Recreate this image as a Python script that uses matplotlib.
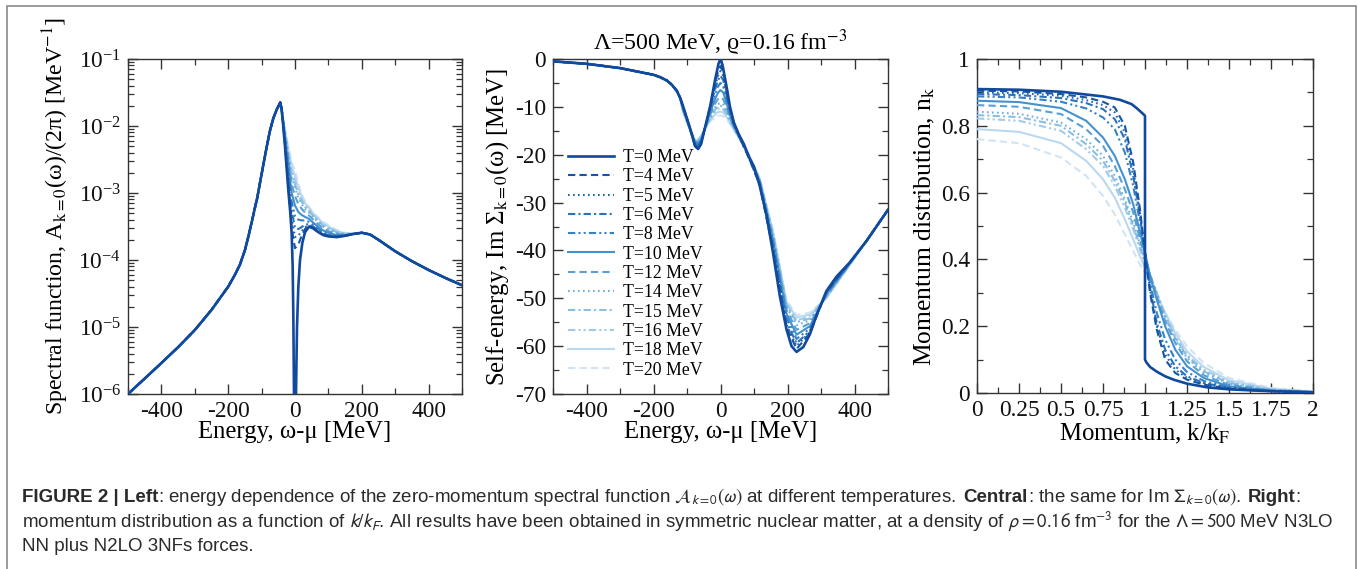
import numpy as np
import matplotlib
matplotlib.use("Agg")
import matplotlib.pyplot as plt
from matplotlib.ticker import MultipleLocator, LogLocator, FuncFormatter, NullFormatter
from matplotlib.lines import Line2D
from matplotlib.patches import Rectangle

# ---------------- data ----------------
temps = [0, 4, 5, 6, 8, 10, 12, 14, 15, 16, 18, 20]
legend_labels = ["T=%d MeV" % t for t in temps]

# Left panel: spectral function A_k=0(w)/(2pi) [MeV^-1]
spec_tailL_E = [-500, -450, -400, -350, -300, -250, -200, -180, -165, -150, -140, -130, -120, -113, -105, -95, -85,
                -75, -65, -55, -48]
spec_tailL_A = [1.0e-6, 1.7e-6, 2.9e-6, 5.0e-6, 9.0e-6, 1.8e-5, 4.0e-5, 6.0e-5, 8.5e-5, 1.4e-4, 2.2e-4, 3.6e-4,
                6.0e-4, 8.5e-4, 1.4e-3, 2.6e-3, 4.8e-3, 8.5e-3, 1.3e-2, 1.75e-2, 2.05e-2]
spec_tailR_E = [175, 200, 225, 250, 300, 350, 400, 450, 500]
spec_tailR_A = [2.45e-4, 2.55e-4, 2.4e-4, 2.0e-4, 1.35e-4, 9.6e-5, 7.1e-5, 5.4e-5, 4.2e-5]
spec_core0_E = [-44, -40, -36, -30, -20, -14, -10, -7, -5, -3, 0, 3, 6, 10, 15, 22, 30, 42, 55, 70, 85, 100, 125, 150]
spec_core0_A = [2.25e-2, 1.75e-2, 1.1e-2, 5.0e-3, 1.1e-3, 5.0e-4, 2.5e-4, 8.0e-5, 1.5e-5, 1.0e-6, 1.0e-9, 1.0e-6,
                1.0e-5, 4.0e-5, 1.0e-4, 1.8e-4, 2.6e-4, 3.15e-4, 2.95e-4, 2.6e-4, 2.35e-4, 2.25e-4, 2.2e-4, 2.3e-4]
spec_E_T = [-44, -40, -36, -30, -20, -10, 0, 10, 20, 30, 42, 55, 70, 85, 100, 125, 150]
spec_A_T = [
    [2.25e-2, 1.77e-2, 1.12e-2, 5.3e-3, 1.3e-3, 3.0e-4, 1.5e-4, 1.7e-4, 2.3e-4, 2.9e-4, 3.2e-4, 3.0e-4, 2.6e-4, 2.4e-4, 2.3e-4, 2.2e-4, 2.3e-4],
    [2.25e-2, 1.78e-2, 1.14e-2, 5.6e-3, 1.6e-3, 4.2e-4, 2.2e-4, 2.3e-4, 2.7e-4, 3.1e-4, 3.3e-4, 3.05e-4, 2.65e-4, 2.4e-4, 2.3e-4, 2.2e-4, 2.3e-4],
    [2.25e-2, 1.79e-2, 1.16e-2, 5.9e-3, 1.9e-3, 5.5e-4, 3.0e-4, 2.9e-4, 3.1e-4, 3.4e-4, 3.4e-4, 3.15e-4, 2.75e-4, 2.45e-4, 2.35e-4, 2.25e-4, 2.3e-4],
    [2.25e-2, 1.8e-2, 1.18e-2, 6.3e-3, 2.3e-3, 7.5e-4, 4.5e-4, 4.0e-4, 3.9e-4, 3.9e-4, 3.7e-4, 3.35e-4, 2.9e-4, 2.6e-4, 2.45e-4, 2.3e-4, 2.35e-4],
    [2.25e-2, 1.81e-2, 1.2e-2, 6.8e-3, 2.7e-3, 1.0e-3, 6.5e-4, 5.2e-4, 4.7e-4, 4.4e-4, 4.1e-4, 3.6e-4, 3.1e-4, 2.75e-4, 2.55e-4, 2.35e-4, 2.35e-4],
    [2.25e-2, 1.82e-2, 1.22e-2, 7.2e-3, 3.1e-3, 1.35e-3, 9.0e-4, 6.8e-4, 5.8e-4, 5.1e-4, 4.6e-4, 4.0e-4, 3.4e-4, 2.95e-4, 2.7e-4, 2.45e-4, 2.4e-4],
    [2.25e-2, 1.83e-2, 1.24e-2, 7.7e-3, 3.6e-3, 1.7e-3, 1.2e-3, 8.5e-4, 6.8e-4, 5.8e-4, 5.1e-4, 4.3e-4, 3.65e-4, 3.15e-4, 2.85e-4, 2.55e-4, 2.45e-4],
    [2.25e-2, 1.83e-2, 1.25e-2, 8.0e-3, 3.9e-3, 1.9e-3, 1.35e-3, 9.5e-4, 7.4e-4, 6.2e-4, 5.4e-4, 4.5e-4, 3.8e-4, 3.25e-4, 2.95e-4, 2.6e-4, 2.45e-4],
    [2.25e-2, 1.84e-2, 1.26e-2, 8.3e-3, 4.1e-3, 2.1e-3, 1.5e-3, 1.05e-3, 8.0e-4, 6.6e-4, 5.7e-4, 4.7e-4, 3.95e-4, 3.4e-4, 3.05e-4, 2.65e-4, 2.5e-4],
    [2.25e-2, 1.85e-2, 1.28e-2, 8.7e-3, 4.5e-3, 2.5e-3, 1.8e-3, 1.2e-3, 8.8e-4, 7.1e-4, 6.0e-4, 4.9e-4, 4.15e-4, 3.5e-4, 3.15e-4, 2.7e-4, 2.5e-4],
    [2.25e-2, 1.85e-2, 1.3e-2, 9.0e-3, 4.9e-3, 2.8e-3, 2.2e-3, 1.4e-3, 9.5e-4, 7.5e-4, 6.2e-4, 5.0e-4, 4.3e-4, 3.7e-4, 3.3e-4, 2.8e-4, 2.55e-4],
]

# Central panel: Im Sigma_k=0(w) [MeV]
self_tailL_E = [-500, -400, -300, -200, -180, -160, -145, -130, -120]
self_tailL_S = [-0.5, -1.0, -1.9, -3.3, -3.8, -4.5, -5.4, -6.7, -8.2]
self_tailR_E = [436, 500]
self_tailR_S = [-38.0, -31.5]
self_core0_E = [-112, -92, -76, -67, -58, -45, -31, -16, -6, 0, 6, 12, 20, 28, 40, 55, 70, 85, 100, 117, 137, 157,
                177, 197, 212, 227, 247, 267, 287, 316, 346, 386]
self_core0_S = [-9.8, -14.2, -18.2, -18.8, -17.8, -14.0, -9.9, -4.3, -1.0, 0.0, -1.2, -3.5, -6.5, -9.9, -13.3, -15.8,
                -17.8, -20.5, -22.5, -26.5, -32.5, -40.6, -49.5, -56.5, -60.0, -61.2, -60.2, -57.5, -53.5, -48.5, -45.5, -42.5]
self_E_T = [-112, -92, -76, -67, -58, -45, -31, -16, -8, 0, 8, 16, 28, 40, 55, 85, 117, 157, 197, 227, 267, 316, 386]
self_S_T = [
    [-9.9, -14.3, -18.1, -18.6, -17.6, -14.0, -10.0, -5.0, -2.8, -1.5, -2.6, -5.6, -10.2, -13.4, -16.0, -20.7, -26.3, -40.0, -56.0, -60.6, -57.3, -48.6, -42.5],
    [-10.0, -14.3, -18.0, -18.4, -17.5, -14.0, -10.2, -5.6, -3.6, -2.5, -3.5, -6.2, -10.5, -13.5, -16.0, -20.7, -26.2, -39.5, -55.5, -60.0, -57.0, -48.7, -42.5],
    [-10.1, -14.3, -17.9, -18.2, -17.3, -14.0, -10.4, -6.3, -4.5, -3.5, -4.4, -6.9, -10.8, -13.6, -16.0, -20.6, -26.0, -39.0, -55.0, -59.4, -56.8, -48.8, -42.6],
    [-10.2, -14.4, -17.7, -17.9, -17.1, -14.1, -10.8, -7.3, -5.8, -5.0, -5.7, -7.8, -11.2, -13.8, -16.0, -20.5, -25.8, -38.5, -54.0, -58.5, -56.3, -49.0, -42.6],
    [-10.4, -14.4, -17.5, -17.6, -16.9, -14.1, -11.2, -8.3, -7.1, -6.5, -7.0, -8.7, -11.7, -14.0, -16.1, -20.4, -25.6, -38.0, -53.2, -57.6, -55.8, -49.2, -42.7],
    [-10.5, -14.5, -17.3, -17.4, -16.7, -14.2, -11.7, -9.3, -8.4, -8.0, -8.4, -9.7, -12.2, -14.2, -16.2, -20.3, -25.4, -37.4, -52.4, -56.6, -55.2, -49.4, -42.8],
    [-10.7, -14.5, -17.2, -17.2, -16.5, -14.3, -12.1, -10.1, -9.4, -9.2, -9.5, -10.5, -12.6, -14.4, -16.3, -20.2, -25.3, -37.0, -51.8, -55.6, -54.6, -49.6, -42.8],
    [-10.8, -14.5, -17.1, -17.1, -16.4, -14.3, -12.3, -10.6, -9.9, -9.8, -10.0, -11.0, -12.8, -14.5, -16.3, -20.2, -25.2, -36.8, -51.4, -55.0, -54.2, -49.7, -42.9],
    [-10.8, -14.5, -17.1, -17.0, -16.3, -14.4, -12.5, -11.0, -10.4, -10.3, -10.5, -11.4, -13.0, -14.6, -16.4, -20.1, -25.1, -36.5, -51.1, -54.6, -53.8, -49.8, -42.9],
    [-10.9, -14.6, -17.0, -16.9, -16.1, -14.4, -12.8, -11.6, -11.1, -11.0, -11.2, -11.9, -13.2, -14.7, -16.4, -20.1, -25.0, -36.2, -50.8, -54.0, -53.4, -49.9, -43.0],
    [-11.0, -14.6, -17.0, -16.8, -16.0, -14.5, -13.0, -12.2, -11.9, -11.8, -12.0, -12.5, -13.5, -14.8, -16.5, -20.0, -25.0, -36.0, -50.5, -53.5, -53.0, -50.0, -43.0],
]

# Right panel: momentum distribution n_k vs k/kF
mom0_k = [0.0, 0.25, 0.5, 0.75, 0.85, 0.92, 0.95, 0.99, 1.0, 1.0, 1.008, 1.03, 1.07, 1.12, 1.17, 1.25, 1.37, 1.5, 1.67, 1.85, 2.0]
mom0_n = [0.91, 0.908, 0.902, 0.888, 0.878, 0.865, 0.853, 0.835, 0.83, 0.10, 0.092, 0.078, 0.064, 0.05, 0.04, 0.028,
          0.017, 0.011, 0.007, 0.004, 0.002]
mom_k_T = [0.0, 0.25, 0.5, 0.65, 0.75, 0.82, 0.88, 0.93, 0.97, 1.0, 1.03, 1.07, 1.12, 1.18, 1.25, 1.35, 1.5, 1.75, 2.0]
mom_n_T = [
    [0.905, 0.903, 0.895, 0.885, 0.872, 0.855, 0.80, 0.69, 0.55, 0.42, 0.30, 0.19, 0.10, 0.06, 0.04, 0.025, 0.013, 0.005, 0.002],
    [0.900, 0.898, 0.89, 0.877, 0.862, 0.84, 0.78, 0.67, 0.54, 0.42, 0.31, 0.20, 0.115, 0.07, 0.045, 0.028, 0.014, 0.005, 0.002],
    [0.895, 0.892, 0.883, 0.868, 0.85, 0.82, 0.76, 0.65, 0.53, 0.42, 0.315, 0.21, 0.13, 0.08, 0.05, 0.03, 0.015, 0.006, 0.002],
    [0.888, 0.885, 0.872, 0.852, 0.825, 0.79, 0.72, 0.62, 0.51, 0.42, 0.33, 0.24, 0.16, 0.10, 0.063, 0.036, 0.017, 0.006, 0.002],
    [0.875, 0.871, 0.853, 0.815, 0.765, 0.71, 0.64, 0.565, 0.48, 0.42, 0.35, 0.28, 0.20, 0.13, 0.08, 0.045, 0.02, 0.007, 0.003],
    [0.862, 0.857, 0.835, 0.79, 0.74, 0.68, 0.61, 0.54, 0.46, 0.41, 0.355, 0.29, 0.215, 0.15, 0.095, 0.053, 0.024, 0.008, 0.003],
    [0.842, 0.836, 0.81, 0.76, 0.71, 0.65, 0.58, 0.51, 0.445, 0.40, 0.355, 0.295, 0.225, 0.16, 0.105, 0.06, 0.028, 0.009, 0.003],
    [0.832, 0.826, 0.80, 0.745, 0.695, 0.635, 0.57, 0.50, 0.44, 0.395, 0.355, 0.30, 0.23, 0.165, 0.11, 0.065, 0.03, 0.01, 0.003],
    [0.822, 0.815, 0.785, 0.73, 0.68, 0.62, 0.555, 0.49, 0.43, 0.39, 0.35, 0.30, 0.235, 0.17, 0.115, 0.07, 0.033, 0.011, 0.004],
    [0.79, 0.782, 0.748, 0.695, 0.64, 0.585, 0.52, 0.46, 0.41, 0.375, 0.34, 0.295, 0.24, 0.18, 0.125, 0.078, 0.038, 0.013, 0.004],
    [0.76, 0.748, 0.705, 0.65, 0.59, 0.535, 0.475, 0.425, 0.385, 0.36, 0.33, 0.29, 0.24, 0.19, 0.14, 0.09, 0.045, 0.015, 0.005],
]

# ---------------- styles ----------------
colors = ['#11499c', '#1656a6', '#2064b2', '#2a72bb', '#3581c5', '#4591cd', '#5aa0d5', '#72afdc',
          '#8bbee3', '#a2cbe8', '#bad8ef', '#d0e4f4']
dash = (0, (3.5, 2.0))
dot = (0, (0.8, 1.6))
dashdot = (0, (3.5, 1.5, 1.0, 1.5))
dashdotdot = (0, (3.5, 1.5, 1.0, 1.5, 1.0, 1.5))
lstyles = ['-', dash, dot, dashdot, dashdotdot, '-', dash, dot, dashdot, dashdotdot, '-', dash]
lwidths = [1.9] + [1.5] * 11

plt.rcParams['font.family'] = ['Liberation Serif', 'DejaVu Serif']
plt.rcParams['mathtext.fontset'] = 'stix'
plt.rcParams['axes.unicode_minus'] = False

W, H = 1358, 569
fig = plt.figure(figsize=(W / 100, H / 100), dpi=100)

def px_axes(x0, x1, y0, y1):
    return fig.add_axes([x0 / W, 1 - y1 / H, (x1 - x0) / W, (y1 - y0) / H])

axL = px_axes(128, 462, 59, 394)
axC = px_axes(553, 888, 59, 394)
axR = px_axes(977, 1313, 59, 393)

TFS = 16.8
LFS = 17.8
spine_col = '#333333'
for ax in (axL, axC, axR):
    for s in ax.spines.values():
        s.set_linewidth(1.0)
        s.set_color(spine_col)
    ax.tick_params(which='both', direction='in', top=True, right=True, colors=spine_col,
                   labelcolor='#111111', labelsize=TFS)
    ax.tick_params(which='major', length=7, width=1.0, pad=5)
    ax.tick_params(which='minor', length=4, width=0.9)

# ---- left ----
n = len(temps)
for i in reversed(range(n)):
    if i == 0:
        x = spec_tailL_E + spec_core0_E + spec_tailR_E
        y = spec_tailL_A + spec_core0_A + spec_tailR_A
    else:
        x = spec_tailL_E + spec_E_T + spec_tailR_E
        y = spec_tailL_A + spec_A_T[i - 1] + spec_tailR_A
    axL.plot(x, y, color=colors[i], ls=lstyles[i], lw=lwidths[i], zorder=2 + n - i)
axL.set_yscale('log')
axL.set_xlim(-500, 500)
axL.set_ylim(1e-6, 1e-1)
axL.xaxis.set_major_locator(MultipleLocator(200))
axL.xaxis.set_minor_locator(MultipleLocator(100))
axL.yaxis.set_major_locator(LogLocator(base=10, numticks=10))
axL.yaxis.set_minor_locator(LogLocator(base=10, subs=np.arange(2, 10), numticks=20))
axL.yaxis.set_minor_formatter(NullFormatter())
axL.set_xlabel("Energy, ω-μ [MeV]", fontsize=LFS)
axL.set_ylabel(r"Spectral function, A$_{\mathrm{k=0}}$(ω)/(2π) [MeV$^{\mathrm{-1}}$]", fontsize=LFS - 0.6)
axL.yaxis.set_label_coords(-0.171, 0.53)
axL.xaxis.set_label_coords(0.5, -0.082)

# ---- center ----
for i in reversed(range(n)):
    if i == 0:
        x = self_tailL_E + self_core0_E + self_tailR_E
        y = self_tailL_S + self_core0_S + self_tailR_S
    else:
        x = self_tailL_E + self_E_T + self_tailR_E
        y = self_tailL_S + self_S_T[i - 1] + self_tailR_S
    axC.plot(x, y, color=colors[i], ls=lstyles[i], lw=lwidths[i], zorder=2 + n - i)
axC.set_xlim(-500, 500)
axC.set_ylim(-70, 0)
axC.xaxis.set_major_locator(MultipleLocator(200))
axC.xaxis.set_minor_locator(MultipleLocator(100))
axC.yaxis.set_major_locator(MultipleLocator(10))
axC.yaxis.set_minor_locator(MultipleLocator(5))
axC.set_xlabel("Energy, ω-μ [MeV]", fontsize=LFS)
axC.set_ylabel(r"Self-energy, Im Σ$_{\mathrm{k=0}}$(ω) [MeV]", fontsize=LFS)
axC.yaxis.set_label_coords(-0.125, 0.5)
axC.xaxis.set_label_coords(0.5, -0.082)
axC.set_title(r"Λ=500 MeV, ϱ=0.16 fm$^{\mathrm{-3}}$", fontsize=17.2, pad=6)
handles = [Line2D([], [], color=colors[i], ls=lstyles[i], lw=lwidths[i]) for i in range(n)]
axC.legend(handles, legend_labels, loc='upper left', bbox_to_anchor=(0.045, 0.731), frameon=False,
           fontsize=12.8, labelspacing=0.13, handlelength=2.6, handletextpad=0.5, borderpad=0, borderaxespad=0)

# ---- right ----
for i in reversed(range(n)):
    if i == 0:
        x, y = mom0_k, mom0_n
    else:
        x, y = mom_k_T, mom_n_T[i - 1]
    axR.plot(x, y, color=colors[i], ls=lstyles[i], lw=lwidths[i], zorder=2 + n - i)
axR.set_xlim(0, 2)
axR.set_ylim(0, 1)
axR.xaxis.set_major_locator(MultipleLocator(0.25))
axR.xaxis.set_minor_locator(MultipleLocator(0.125))
axR.yaxis.set_major_locator(MultipleLocator(0.2))
axR.yaxis.set_minor_locator(MultipleLocator(0.1))
fmt = FuncFormatter(lambda v, p: ("%g" % round(v, 3)))
axR.xaxis.set_major_formatter(fmt)
axR.yaxis.set_major_formatter(fmt)
axR.set_xlabel(r"Momentum, k/k$_{\mathrm{F}}$", fontsize=LFS)
axR.set_ylabel(r"Momentum distribution, n$_{\mathrm{k}}$", fontsize=LFS + 0.6)
axR.yaxis.set_label_coords(-0.119, 0.5)
axR.xaxis.set_label_coords(0.5, -0.088)

# ---- frame ----
fig.patches.append(Rectangle((7 / W, -0.05), (1356 - 7) / W, 1 - 6 / H + 0.05, transform=fig.transFigure,
                             fill=False, ec='#8a8a8a', lw=1.2))

# ---- caption ----
cap_kw = dict(family=['Liberation Sans', 'DejaVu Sans'], fontsize=13.5, color='#2a2a2a', math_fontfamily='stixsans')
caption_lines = [
    [("FIGURE 2 | Left", 'bold'),
     (": energy dependence of the zero-momentum spectral function $\\mathcal{A}_{k=0}(\\omega)$ at different temperatures. ", 'normal'),
     ("Central", 'bold'), (": the same for Im $\\Sigma_{k=0}(\\omega)$. ", 'normal'), ("Right", 'bold'), (":", 'normal')],
    [("momentum distribution as a function of $k/k_F$. All results have been obtained in symmetric nuclear matter, "
      "at a density of $\\rho = 0.16$ fm$^{-3}$ for the $\\Lambda = 500$ MeV N3LO", 'normal')],
    [("NN plus N2LO 3NFs forces.", 'normal')],
]
baselines = [502, 527, 551]
renderer = fig.canvas.get_renderer()

def text_width(s, weight):
    t1 = fig.text(0, 0, "x" + s + "x", weight=weight, **cap_kw)
    t2 = fig.text(0, 0, "xx", weight=weight, **cap_kw)
    w = t1.get_window_extent(renderer).width - t2.get_window_extent(renderer).width
    t1.remove(); t2.remove()
    return w

for line, yb in zip(caption_lines, baselines):
    xpx = 22.0
    for s, wt in line:
        fig.text(xpx / W, 1 - yb / H, s, weight=wt, va='baseline', ha='left', **cap_kw)
        xpx += text_width(s, wt)

fig.savefig("out.png", dpi=100)
